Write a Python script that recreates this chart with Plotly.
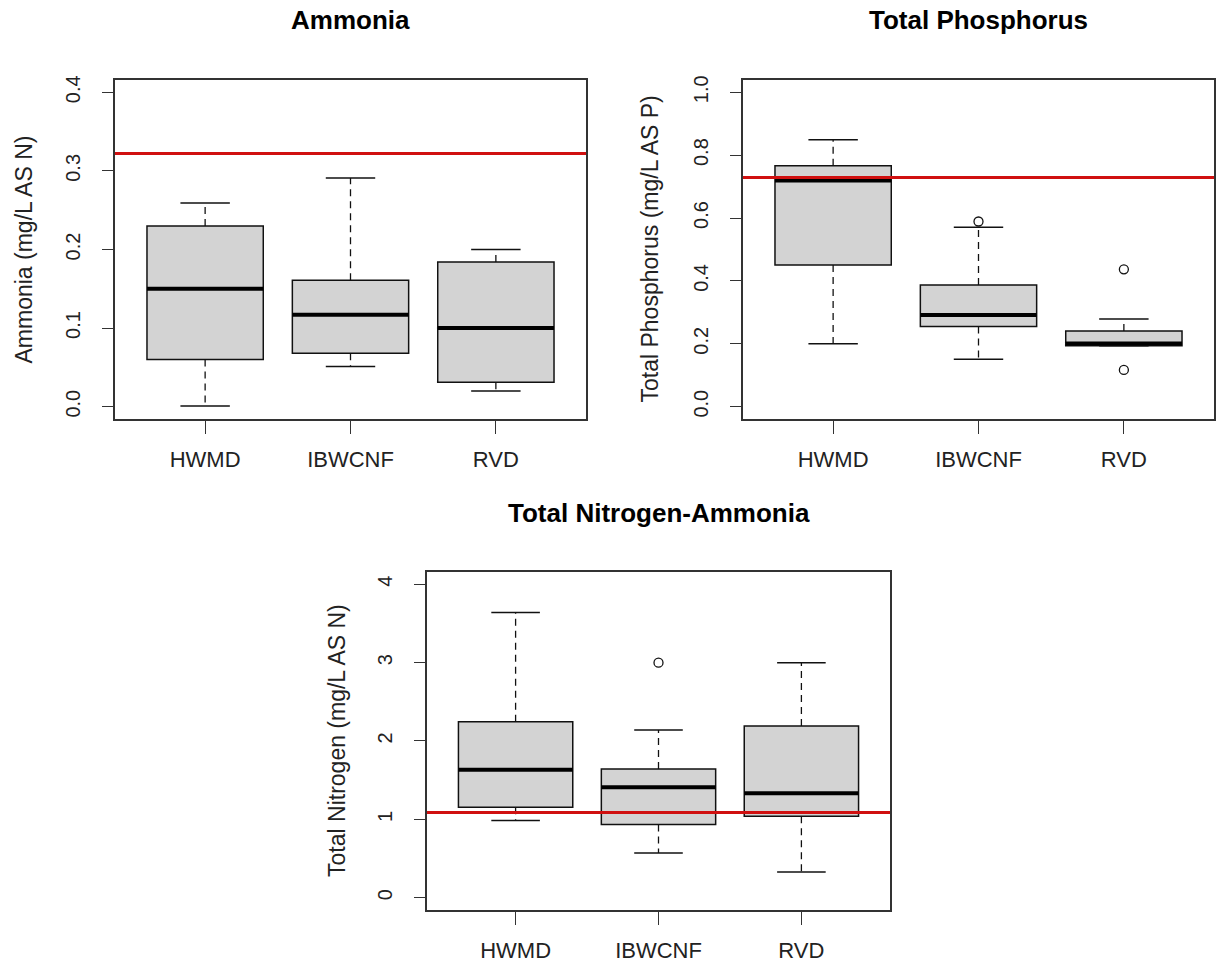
import plotly.graph_objects as go

# ---------------- data ----------------
sites = ["HWMD", "IBWCNF", "RVD"]
positions = [1, 2, 3]

# Ammonia (mg/L AS N)
amm_low = [0.001, 0.051, 0.020]
amm_q1 = [0.060, 0.068, 0.031]
amm_med = [0.150, 0.117, 0.100]
amm_q3 = [0.230, 0.161, 0.184]
amm_high = [0.259, 0.291, 0.200]
amm_out_x = []
amm_out_y = []
amm_limit = 0.322

# Total Phosphorus (mg/L AS P)
tp_low = [0.200, 0.151, 0.194]
tp_q1 = [0.451, 0.255, 0.194]
tp_med = [0.719, 0.292, 0.201]
tp_q3 = [0.766, 0.387, 0.241]
tp_high = [0.849, 0.571, 0.279]
tp_out_x = [2, 3, 3]
tp_out_y = [0.589, 0.437, 0.117]
tp_limit = 0.729

# Total Nitrogen (mg/L AS N)
tn_low = [0.985, 0.569, 0.327]
tn_q1 = [1.155, 0.934, 1.040]
tn_med = [1.631, 1.410, 1.333]
tn_q3 = [2.246, 1.643, 2.191]
tn_high = [3.639, 2.140, 2.998]
tn_out_x = [2]
tn_out_y = [2.998]
tn_limit = 1.087

panels = [
    dict(title="Ammonia", ytitle="Ammonia (mg/L AS N)", low=amm_low, q1=amm_q1, med=amm_med,
         q3=amm_q3, high=amm_high, ox=amm_out_x, oy=amm_out_y, limit=amm_limit,
         yrange=[-0.016, 0.416], ytickvals=[0.0, 0.1, 0.2, 0.3, 0.4], yfmt=".1f"),
    dict(title="Total Phosphorus", ytitle="Total Phosphorus (mg/L AS P)", low=tp_low, q1=tp_q1, med=tp_med,
         q3=tp_q3, high=tp_high, ox=tp_out_x, oy=tp_out_y, limit=tp_limit,
         yrange=[-0.04, 1.04], ytickvals=[0.0, 0.2, 0.4, 0.6, 0.8, 1.0], yfmt=".1f"),
    dict(title="Total Nitrogen-Ammonia", ytitle="Total Nitrogen (mg/L AS N)", low=tn_low, q1=tn_q1, med=tn_med,
         q3=tn_q3, high=tn_high, ox=tn_out_x, oy=tn_out_y, limit=tn_limit,
         yrange=[-0.16, 4.16], ytickvals=[0, 1, 2, 3, 4], yfmt="d"),
]

# ---------------- layout geometry (pixels) ----------------
W, H = 1219, 968
boxes_px = [  # left, right, top, bottom
    (115, 586, 76, 417),
    (743, 1214, 76, 417),
    (427, 890, 570, 910),
]

FONT = "Liberation Sans, Arial, sans-serif"
BOXW = 0.8
CAPW = 0.17
AXCOL = "#333333"
INK = "#111111"

fig = go.Figure()
layout = dict(
    width=W, height=H, margin=dict(l=0, r=0, t=0, b=0),
    paper_bgcolor="white", plot_bgcolor="white", showlegend=False,
    font=dict(family=FONT, color="#222222"),
    annotations=[], shapes=[],
)

for k, (p, (L, R, T, B)) in enumerate(zip(panels, boxes_px)):
    n = "" if k == 0 else str(k + 1)
    xa, ya = "x" + n, "y" + n
    dom_x = [L / W, R / W]
    dom_y = [1 - B / H, 1 - T / H]

    # box (no whiskers: fences at quartiles)
    fig.add_trace(go.Box(
        x=positions, q1=p["q1"], median=p["med"], q3=p["q3"],
        lowerfence=p["q1"], upperfence=p["q3"],
        width=BOXW, whiskerwidth=0, fillcolor="#d3d3d3",
        line=dict(color=INK, width=1.5), boxpoints=False,
        hoverinfo="skip", xaxis=xa, yaxis=ya,
    ))
    # dashed whiskers
    wx, wy = [], []
    for i, pos in enumerate(positions):
        wx += [pos, pos, None, pos, pos, None]
        wy += [p["q3"][i], p["high"][i], None, p["q1"][i], p["low"][i], None]
    fig.add_trace(go.Scatter(x=wx, y=wy, mode="lines", line=dict(color=INK, width=1.3, dash="7px,5px"),
                             hoverinfo="skip", xaxis=xa, yaxis=ya))
    # caps
    cx, cy = [], []
    for i, pos in enumerate(positions):
        cx += [pos - CAPW, pos + CAPW, None, pos - CAPW, pos + CAPW, None]
        cy += [p["high"][i], p["high"][i], None, p["low"][i], p["low"][i], None]
    fig.add_trace(go.Scatter(x=cx, y=cy, mode="lines", line=dict(color=INK, width=1.5),
                             hoverinfo="skip", xaxis=xa, yaxis=ya))
    # thick medians
    mx, my = [], []
    for i, pos in enumerate(positions):
        mx += [pos - BOXW / 2, pos + BOXW / 2, None]
        my += [p["med"][i], p["med"][i], None]
    fig.add_trace(go.Scatter(x=mx, y=my, mode="lines", line=dict(color="#000000", width=4),
                             hoverinfo="skip", xaxis=xa, yaxis=ya))
    # outliers
    if p["ox"]:
        fig.add_trace(go.Scatter(x=p["ox"], y=p["oy"], mode="markers",
                                 marker=dict(symbol="circle-open", size=9, color=INK, line=dict(width=1.3)),
                                 hoverinfo="skip", xaxis=xa, yaxis=ya))

    axis_common = dict(showgrid=False, zeroline=False, showline=True, mirror=True,
                       linecolor=AXCOL, linewidth=1.5, ticks="outside", tickcolor=AXCOL,
                       tickwidth=1.3)
    layout["xaxis" + n] = dict(axis_common, domain=dom_x, anchor=ya, range=[0.38, 3.62],
                               tickvals=positions, ticktext=sites, ticklen=13, ticklabelstandoff=7,
                               tickfont=dict(family=FONT, size=22, color="#222222"))
    layout["yaxis" + n] = dict(axis_common, domain=dom_y, anchor=xa, range=p["yrange"],
                               tickvals=p["ytickvals"], tickformat=p["yfmt"], tickangle=-90,
                               ticklen=11, ticklabelstandoff=14,
                               tickfont=dict(family=FONT, size=20, color="#222222"))

    # reference limit line
    layout["shapes"].append(dict(type="line", xref=xa + " domain", yref=ya, x0=0, x1=1,
                                 y0=p["limit"], y1=p["limit"], line=dict(color="#d01010", width=3)))
    # panel title
    ty = 16 if k < 2 else 511
    layout["annotations"].append(dict(text="<b>" + p["title"] + "</b>", xref="paper", yref="paper",
                                      x=(L + R) / 2 / W, y=1 - ty / H, showarrow=False,
                                      xanchor="center", yanchor="middle",
                                      font=dict(family=FONT, size=26, color="#000000")))
    # y axis title
    yt_x = [24, 650, 337][k]
    layout["annotations"].append(dict(text=p["ytitle"], xref="paper", yref="paper",
                                      x=yt_x / W, y=1 - (T + B) / 2 / H, textangle=-90, showarrow=False,
                                      xanchor="center", yanchor="middle",
                                      font=dict(family=FONT, size=23, color="#222222")))

fig.update_layout(**layout)
fig.write_html("out.html")
